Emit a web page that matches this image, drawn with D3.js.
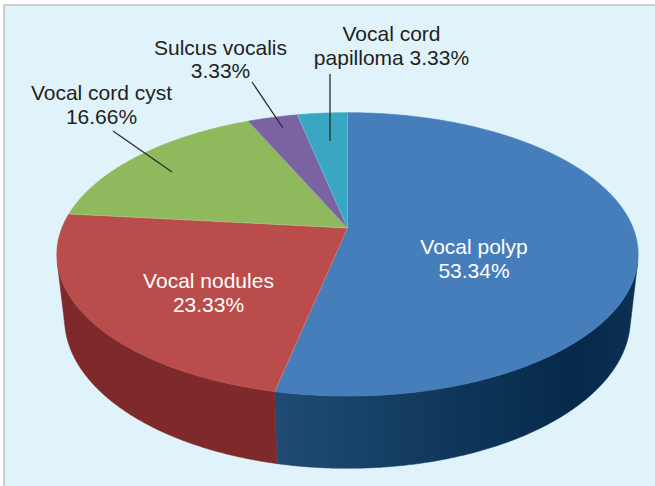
<!DOCTYPE html>
<html>
<head>
<meta charset="utf-8">
<script src="https://cdn.jsdelivr.net/npm/d3@7/dist/d3.min.js"></script>
<style>
  html, body { margin: 0; padding: 0; background: #ffffff; }
  svg { display: block; }
  text { font-family: "Liberation Sans", Arial, Helvetica, sans-serif; }
</style>
</head>
<body>
<svg id="chart" width="655" height="486"></svg>
<script>
// ---- data ----
const categories = ["Vocal polyp", "Vocal nodules", "Vocal cord cyst", "Sulcus vocalis", "Vocal cord papilloma"];
const values = [53.34, 23.33, 16.66, 3.33, 3.33];
const valueLabels = ["53.34%", "23.33%", "16.66%", "3.33%", "3.33%"];

// ---- styles / layout ----
const topColors  = ["#467ebb", "#ba4d4b", "#8fb95d", "#7a62a3", "#3aa7c2"];
const sideColors = ["#123c63", "#7e2a2a", "#5e7d38", "#4f3d6e", "#1f7086"];
const labelLines = [
  ["Vocal polyp", "53.34%"],
  ["Vocal nodules", "23.33%"],
  ["Vocal cord cyst", "16.66%"],
  ["Sulcus vocalis", "3.33%"],
  ["Vocal cord", "papilloma 3.33%"]
];
const labelAnchors = [[474, 254], [208.5, 288], [101.5, 100], [220.5, 54.5], [391.5, 41]];
const labelInside = [true, true, false, false, false];
const leaders = [null, null, [[113, 131], [172, 172]], [[252, 82], [283, 128]], [[330, 74], [330, 141]]];

const W = 655, H = 486;
const svg = d3.select("#chart");

// background + frame
svg.append("rect").attr("x", 0).attr("y", 0).attr("width", W).attr("height", H).attr("fill", "#ffffff");
svg.append("rect").attr("x", 4).attr("y", 5).attr("width", W - 3).attr("height", H - 4)
  .attr("fill", "#e1f3fa").attr("stroke", "#c4c4c4").attr("stroke-width", 1.6);

// ---- 3D projection of the pie ----
const cx = 347.5, cy = 228, F = 1348, Dist = 4.72;
const sinE = 0.479, cosE = 0.878, thick = 0.26;
function proj(thetaDeg, r, z) {
  const t = thetaDeg * Math.PI / 180;
  const x = r * Math.sin(t), y = r * Math.cos(t);
  const depth = y * cosE - z * sinE + Dist;
  const up = y * sinE + z * cosE;
  return [cx + F * x / depth, cy - F * up / depth];
}

const pie = d3.pie().sort(null).value(d => d)
  .startAngle(0).endAngle(2 * Math.PI);
const arcs = pie(values);
const deg = a => a * 180 / Math.PI;

// visible wall range: cos(theta) < -1/(Dist*cosE)
const limit = Math.acos(-1 / (Dist * cosE)) * 180 / Math.PI; // ~104
const visA = limit, visB = 360 - limit;

const line = d3.line();
const defs = svg.append("defs");
const grad = defs.append("linearGradient").attr("id", "blueSide")
  .attr("gradientUnits", "userSpaceOnUse").attr("x1", 275).attr("y1", 0).attr("x2", 640).attr("y2", 0);
grad.append("stop").attr("offset", "0").attr("stop-color", "#1f4b74");
grad.append("stop").attr("offset", "0.82").attr("stop-color", "#052949");
grad.append("stop").attr("offset", "1").attr("stop-color", "#0b3154");

const gSide = svg.append("g");
arcs.forEach((a, i) => {
  const s = Math.max(deg(a.startAngle), visA);
  const e = Math.min(deg(a.endAngle), visB);
  if (e <= s) return;
  const pts = [];
  const n = Math.max(2, Math.ceil((e - s) / 0.5));
  for (let k = 0; k <= n; k++) pts.push(proj(s + (e - s) * k / n, 1, 0));
  for (let k = n; k >= 0; k--) pts.push(proj(s + (e - s) * k / n, 1, -thick));
  gSide.append("path").attr("d", line(pts) + "Z")
    .attr("fill", i === 0 ? "url(#blueSide)" : sideColors[i])
    .attr("stroke", i === 0 ? "url(#blueSide)" : sideColors[i]).attr("stroke-width", 0.5);
});

const gTop = svg.append("g");
arcs.forEach((a, i) => {
  const s = deg(a.startAngle), e = deg(a.endAngle);
  const pts = [proj(0, 0, 0)];
  const n = Math.max(2, Math.ceil((e - s) / 0.5));
  for (let k = 0; k <= n; k++) pts.push(proj(s + (e - s) * k / n, 1, 0));
  gTop.append("path").attr("d", line(pts) + "Z")
    .attr("fill", topColors[i]).attr("stroke", topColors[i]).attr("stroke-width", 0.6)
    .attr("stroke-linejoin", "round");
});
// subtle light edges
arcs.forEach((a, i) => {
  const s = deg(a.startAngle);
  gTop.append("path").attr("d", line([proj(0, 0, 0), proj(s, 1, 0)]))
    .attr("stroke", "#ffffff").attr("stroke-opacity", 0.25).attr("stroke-width", 0.8).attr("fill", "none");
});

// ---- leader lines ----
const gLead = svg.append("g");
leaders.forEach(l => {
  if (!l) return;
  gLead.append("path").attr("d", line(l)).attr("stroke", "#2b2b2b")
    .attr("stroke-width", 1.3).attr("fill", "none");
});

// ---- labels ----
const gLab = svg.append("g");
labelLines.forEach((ls, i) => {
  const [x, y] = labelAnchors[i];
  const t = gLab.append("text").attr("text-anchor", "middle")
    .attr("font-size", 21)
    .attr("fill", labelInside[i] ? "#ffffff" : "#231f20");
  ls.forEach((s, j) => {
    t.append("tspan").attr("x", x).attr("y", y + j * 23.5).text(s);
  });
});
</script>
</body>
</html>
